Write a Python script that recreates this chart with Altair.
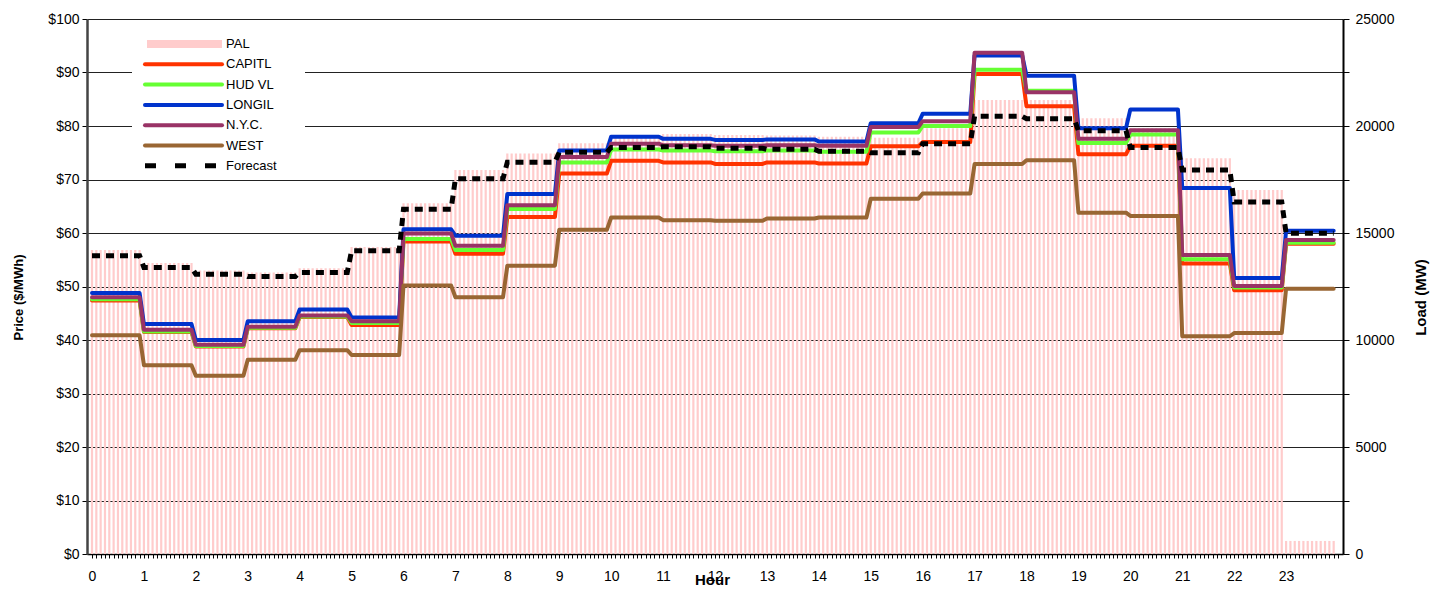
import altair as alt
import pandas as pd

# ---------------- data ----------------
HOURS = list(range(24))
INTERVALS_PER_HOUR = 12  # 5-minute intervals

CAPITL = [47.4, 41.5, 38.8, 42.2, 44.3, 42.8, 58.4, 56.1, 63.0, 71.1, 73.5, 73.2,
          72.9, 73.2, 73.0, 76.2, 77.0, 89.7, 83.7, 74.7, 76.3, 54.3, 49.3, 58.0]
HUD_VL = [47.6, 41.6, 38.9, 42.3, 44.4, 43.2, 58.9, 56.8, 64.5, 73.2, 75.6, 75.4,
          75.3, 75.4, 75.2, 78.8, 80.0, 90.5, 86.6, 76.8, 78.4, 55.1, 49.8, 58.2]
LONGIL = [48.8, 43.0, 40.0, 43.5, 45.7, 44.2, 60.7, 59.5, 67.3, 75.4, 78.0, 77.6,
          77.4, 77.5, 77.1, 80.5, 82.3, 93.2, 89.4, 79.6, 83.1, 68.4, 51.6, 60.4]
NYC = [48.0, 41.9, 39.1, 42.5, 44.6, 43.5, 59.9, 57.6, 65.2, 74.2, 76.7, 76.4,
       76.3, 76.4, 76.3, 79.8, 80.9, 93.7, 86.3, 77.6, 79.2, 55.9, 50.1, 58.7]
WEST = [40.9, 35.3, 33.3, 36.3, 38.1, 37.2, 50.2, 48.0, 53.9, 60.6, 62.9, 62.4,
        62.3, 62.7, 62.9, 66.4, 67.4, 72.9, 73.6, 63.8, 63.2, 40.7, 41.3, 49.6]
FORECAST = [13940, 13390, 13070, 12970, 13160, 14170, 16110, 17540, 18310, 18770,
            19000, 19030, 18960, 18910, 18820, 18750, 19170, 20450, 20340, 19780,
            18990, 17940, 16450, 14990]
PAL = [14210, 13600, 13250, 13150, 13350, 14340, 16390, 17940, 18720, 19190,
       19500, 19630, 19580, 19560, 19500, 19450, 19900, 21210, 21210, 20360,
       19900, 18490, 17010, 610]

SERIES_NAMES = ["CAPITL", "HUD VL", "LONGIL", "N.Y.C.", "WEST"]
SERIES_VALUES = [CAPITL, HUD_VL, LONGIL, NYC, WEST]
SERIES_COLORS = ["#FF3300", "#66FF33", "#0033CC", "#993366", "#996633"]
LEGEND_NAMES = ["PAL"] + SERIES_NAMES + ["Forecast"]

X_TICK_LABELS = [str(h) for h in HOURS]
PRICE_TICKS = list(range(0, 101, 10))
LOAD_TICKS = list(range(0, 25001, 2500))

# ---------------- build tables ----------------
N = 24 * INTERVALS_PER_HOUR
t = [i / INTERVALS_PER_HOUR for i in range(N)]
hour_of = [i // INTERVALS_PER_HOUR for i in range(N)]

def per_interval(hourly):
    return [hourly[h] for h in hour_of]

load_df = pd.DataFrame({"t": t, "pal": per_interval(PAL), "forecast": per_interval(FORECAST)})

FONT = "Liberation Sans"
W, H = 1256, 535

x_enc = alt.X(
    "t:Q",
    scale=alt.Scale(domain=[0, 24], nice=False, zero=False),
    axis=alt.Axis(
        values=[i / INTERVALS_PER_HOUR for i in range(N + 1)],
        labelExpr="(datum.value % 1 === 0 && datum.value < 24) ? datum.value : ''",
        labelOverlap=False,
        title="Hour",
        titleFontSize=15,
        titleFontWeight="bold",
        titleBaseline="top",
        titleY=18,
        titleX=625,
        tickSize=4,
        tickColor="#000",
        domainColor="#000",
        domainWidth=1.5,
        labelFontSize=14,
        labelPadding=11,
        labelColor="#000",
        grid=False,
    ),
)

bars = alt.Chart(load_df).mark_bar(size=2.2, color="#FFCCCC", clip=True).encode(
    x=x_enc,
    y=alt.Y(
        "pal:Q",
        scale=alt.Scale(domain=[0, 25000], nice=False),
        axis=alt.Axis(
            orient="right",
            values=LOAD_TICKS,
            labelExpr="datum.value % 5000 === 0 ? datum.value : ''",
            title="Load (MW)",
            titleAngle=270,
            titleFontSize=15,
            titleFontWeight="bold",
            titlePadding=35,
            titleY=278,
            grid=False,
            tickSize=6,
            tickColor="#000",
            domainColor="#000",
            domainWidth=2,
            labelFontSize=14,
            labelPadding=6,
            labelColor="#000",
        ),
    ),
)

price_axis = alt.Axis(
    orient="left",
    values=PRICE_TICKS,
    labelExpr="'$' + datum.value",
    title="Price ($/MWh)",
    titleFontSize=13,
    titleFontWeight="bold",
    titlePadding=22,
    titleY=278,
    grid=True,
    gridColor="#222",
    gridWidth=1,
    tickSize=5,
    tickColor="#000",
    domainColor="#444",
    domainWidth=2.5,
    labelFontSize=14,
    labelPadding=3,
    labelColor="#000",
)

line_layers = []
for name, vals, col in zip(SERIES_NAMES, SERIES_VALUES, SERIES_COLORS):
    df = pd.DataFrame({"t": t, "price": per_interval(vals), "series": name})
    line_layers.append(
        alt.Chart(df).mark_line(color=col, strokeWidth=4, strokeCap="round",
                                strokeJoin="round", clip=True).encode(
            x=x_enc,
            y=alt.Y("price:Q", scale=alt.Scale(domain=[0, 100], nice=False), axis=price_axis),
        )
    )
price_layer = alt.layer(*line_layers)

forecast = alt.Chart(load_df).mark_line(color="#000", strokeWidth=5, strokeDash=[8, 6],
                                        clip=True).encode(
    x=x_enc,
    y=alt.Y("forecast:Q", scale=alt.Scale(domain=[0, 25000], nice=False), axis=None),
)

# ---------------- legend (drawn inside the plot, top-left) ----------------
legend_layers = [
    alt.Chart().mark_rect(fill="white").encode(
        x=alt.value(45), x2=alt.value(218), y=alt.value(12), y2=alt.value(157)
    )
]
ROW0, ROWSTEP = 25, 20.3
SYM_X0, SYM_X1, TXT_X = 58, 135, 139
legend_colors = ["#FFCCCC"] + SERIES_COLORS + ["#000"]
for i, (name, col) in enumerate(zip(LEGEND_NAMES, legend_colors)):
    yy = ROW0 + ROWSTEP * i
    if name == "PAL":
        legend_layers.append(alt.Chart().mark_rect(fill=col).encode(
            x=alt.value(SYM_X0 + 2), x2=alt.value(SYM_X1), y=alt.value(yy - 4), y2=alt.value(yy + 4)))
    elif name == "Forecast":
        legend_layers.append(alt.Chart().mark_rule(color=col, strokeWidth=5, strokeDash=[11, 19]).encode(
            x=alt.value(SYM_X0), x2=alt.value(SYM_X1), y=alt.value(yy)))
    else:
        legend_layers.append(alt.Chart().mark_rule(color=col, strokeWidth=4, strokeCap="round").encode(
            x=alt.value(SYM_X0), x2=alt.value(SYM_X1), y=alt.value(yy)))
    legend_layers.append(alt.Chart().mark_text(align="left", baseline="middle", fontSize=13,
                                               font=FONT, color="#000").encode(
        x=alt.value(TXT_X), y=alt.value(yy), text=alt.value(name)))

chart = alt.layer(bars, price_layer, forecast, *legend_layers).resolve_scale(
    y="independent"
).properties(
    width=W,
    height=H,
    autosize=alt.AutoSizeParams(type="none"),
    padding={"left": 79, "top": 11, "right": 90, "bottom": 33},
    background="white",
).configure_view(stroke=None).configure_axis(
    labelFont=FONT, titleFont=FONT
).configure_text(font=FONT)

chart.save("out.html", embed_options={"renderer": "svg", "actions": False})
